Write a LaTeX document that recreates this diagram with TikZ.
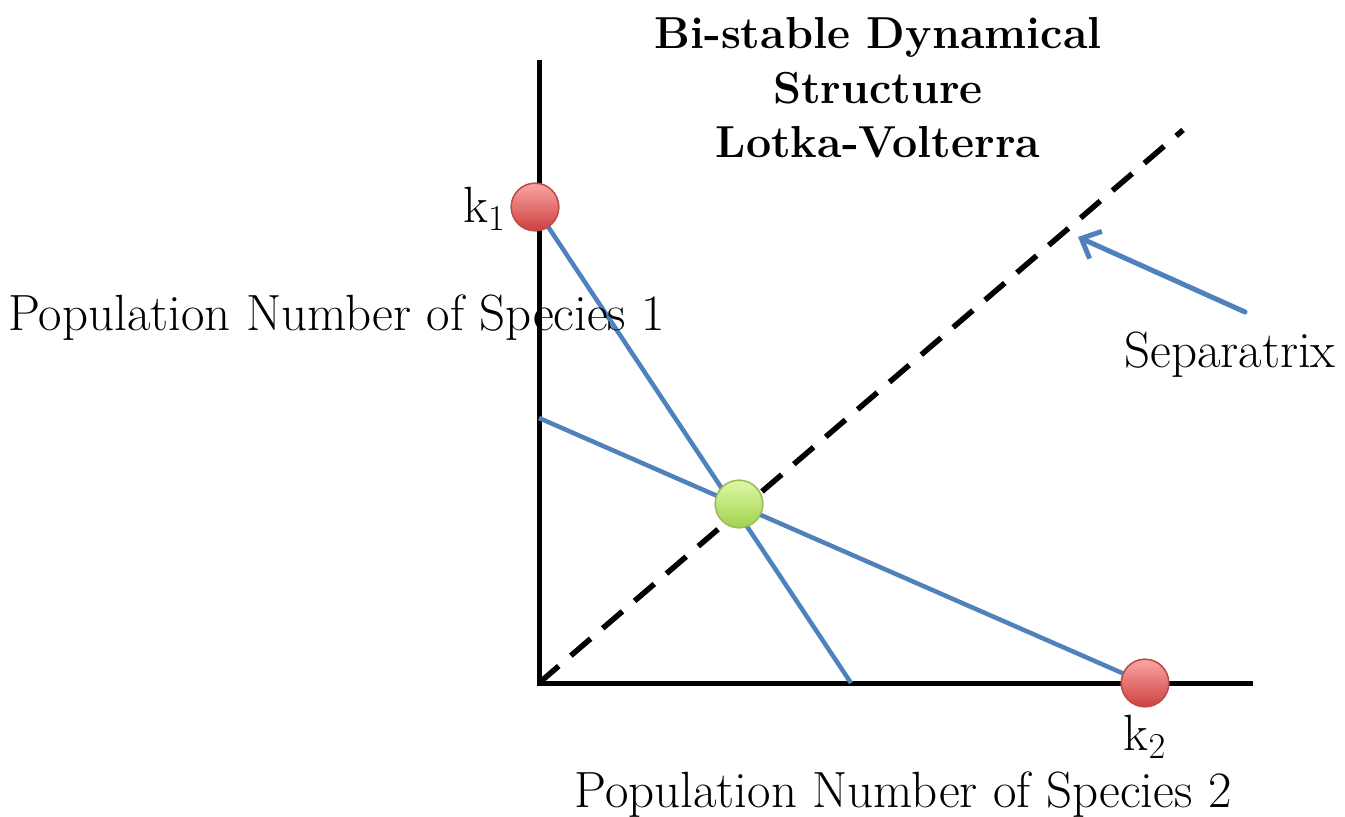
\documentclass[tikz,border=0pt]{standalone}
\usetikzlibrary{arrows.meta}
\definecolor{myblue}{RGB}{79,129,189}
\definecolor{myredtop}{RGB}{250,165,165}
\definecolor{myredbot}{RGB}{205,65,62}
\definecolor{myredrim}{RGB}{190,75,72}
\definecolor{mygreentop}{RGB}{222,248,165}
\definecolor{mygreenbot}{RGB}{160,210,80}
\definecolor{mygreenrim}{RGB}{155,187,89}

\begin{document}
\begin{tikzpicture}[x=0.02cm,y=-0.02cm,
  axis/.style={line width=0.1cm},
  isocline/.style={color=myblue, line width=0.09cm},
  ball/.style={circle, inner sep=0pt, minimum size=0.95cm, line width=0.8pt},
  redball/.style={ball, draw=myredrim, top color=myredtop, bottom color=myredbot},
  greenball/.style={ball, draw=mygreenrim, top color=mygreentop, bottom color=mygreenbot},
  lbl/.style={font=\fontsize{29}{34}\selectfont}
]
\useasboundingbox (0,0) rectangle (1345,817);

% axes
\coordinate (O) at (539,683);
\coordinate (ytop) at (539,60);
\coordinate (xend) at (1253,683);
\draw[axis] (ytop) -- (O) -- (xend);

% equilibria
\node[redball] (k1) at (535,207) {};
\node[redball] (k2) at (1145,683) {};
\node[greenball] (mid) at (739,504) {};

% isoclines
\coordinate (xcut) at (851,683);
\coordinate (ycut) at (539,418);
\draw[isocline] (k1.center) -- (xcut);
\draw[isocline] (ycut) -- (k2.center);

% separatrix
\coordinate (septop) at (1183,130);
\draw[line width=0.11cm, dash pattern=on 0.52cm off 0.32cm] (O) -- (septop);

% redraw the balls on top
\node[redball] at (k1) {};
\node[redball] at (k2) {};
\node[greenball] at (mid) {};

% labels
\node[font=\fontsize{25.5}{31}\selectfont\bfseries, align=center] (title) at (878,88)
  {Bi-stable Dynamical\\Structure\\Lotka-Volterra};
\node[lbl, anchor=west] (ylab) at (2,318) {Population Number of Species 1};
\node[lbl] (xlab) at (903,795) {Population Number of Species 2};
\node[lbl] (sep) at (1230,355) {Separatrix};
\node[lbl, anchor=east] (k1lab) at (512,209) {k$_1$};
\node[lbl] (k2lab) at (1145,737) {k$_2$};

% pointer
\coordinate (sepfrom) at (1245,312);
\coordinate (septo) at (1078,237);
\draw[color=myblue, line width=0.1cm, line cap=round, -{Straight Barb[length=9pt,width=17pt]}] (sepfrom) -- (septo);
\end{tikzpicture}
\end{document}
